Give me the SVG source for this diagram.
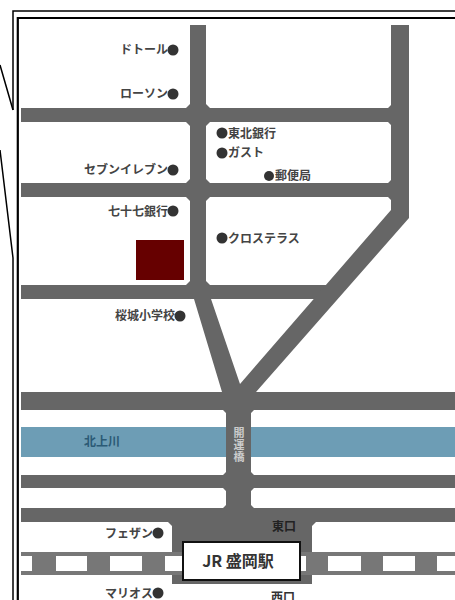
<svg xmlns="http://www.w3.org/2000/svg" width="455" height="600" viewBox="0 0 455 600">
<style>
text{font-family:"Noto Sans CJK JP","Liberation Sans",sans-serif;font-weight:700;fill:#444;font-size:12px}
.e{text-anchor:end}
.m{text-anchor:middle}
.d{fill:#333}
.r{fill:#666}
.w{fill:#fff}
.f{fill:none;stroke:#000}
</style>
<rect width="455" height="600" fill="#fff"/>
<g id="frame">
<path class="f" stroke-width="1.500" d="M13 110V11H455M13 258V600"/>
<path class="f" stroke-width="2.200" d="M17.800 600V18H455"/>
<path class="f" stroke-width="1.500" d="M0 65L13 110M0 150L13 258"/>
</g>
<g id="connectors">
<g id="roads" class="r">
<rect x="190" y="25" width="16" height="274"/>
<rect x="21" y="108" width="372" height="14"/>
<rect x="21" y="183" width="372" height="14"/>
<rect x="21" y="285" width="310" height="14"/>
<path d="M186 108L190 104H206L210 108V122L206 126H190L186 122Z"/>
<path d="M186 183L190 179H206L210 183V197L206 201H190L186 197Z"/>
<path d="M186 285L190 281H206L210 285V299H194L186 297Z"/>
<path d="M388 108L391 105V125L388 122ZM388 183L391 180V200L388 197Z"/>
<path d="M391 25H409V218L256 392H222L194 299H211L240 384L391 210Z"/>
<rect x="21" y="392" width="434" height="18"/>
<rect x="21" y="475" width="434" height="13"/>
<rect x="21" y="508" width="434" height="14"/>
<rect x="226" y="392" width="25" height="130"/>
<path d="M223 410H254L251 413H226ZM223 475L226 472H251L254 475ZM223 488H254L251 491H226ZM223 508L226 505H251L254 508Z"/>
<rect x="172" y="520" width="140" height="64"/>
<path d="M168 522H172V526ZM312 522H316L312 526Z"/>
</g>
<rect id="river-left" x="21" y="427" width="205" height="30" fill="#6d9db5"/>
<rect id="river-right" x="251" y="427" width="204" height="30" fill="#6d9db5"/>
<g id="rail">
<rect x="21" y="552" width="434" height="23" fill="#777"/>
<g class="w">
<rect x="21" y="556" width="11" height="15"/>
<rect x="56" y="556" width="31" height="15"/>
<rect x="110" y="556" width="32" height="15"/>
<rect x="165" y="556" width="20" height="15"/>
<rect x="298" y="556" width="8" height="15"/>
<rect x="328" y="556" width="33" height="15"/>
<rect x="383" y="556" width="32" height="15"/>
<rect x="437" y="556" width="18" height="15"/>
</g>
</g>
</g>
<g id="site"><rect x="136" y="240" width="48" height="40" fill="#660000"/></g>
<g id="station"><rect x="183" y="542" width="117" height="38" fill="#fff" stroke="#111" stroke-width="2"/><text class="m" x="238" y="567" style="font-size:16px;fill:#333">JR 盛岡駅</text></g>
<g id="doutor"><circle class="d" cx="173" cy="50" r="5.500"/><text class="e" x="168" y="54">ドトール</text></g>
<g id="lawson"><circle class="d" cx="173" cy="94" r="5.500"/><text class="e" x="168" y="98">ローソン</text></g>
<g id="seven"><circle class="d" cx="173" cy="170" r="5.500"/><text class="e" x="168" y="174">セブンイレブン</text></g>
<g id="bank77"><circle class="d" cx="173" cy="211" r="5.500"/><text class="e" x="168" y="216">七十七銀行</text></g>
<g id="school"><circle class="d" cx="180" cy="316" r="5.500"/><text class="e" x="175" y="320">桜城小学校</text></g>
<g id="tohoku"><circle class="d" cx="222" cy="133" r="5.500"/><text x="228" y="138">東北銀行</text></g>
<g id="gusto"><circle class="d" cx="222" cy="153" r="5.500"/><text x="228" y="157">ガスト</text></g>
<g id="post"><circle class="d" cx="269" cy="176" r="5"/><text x="275" y="180">郵便局</text></g>
<g id="crossterrace"><circle class="d" cx="222" cy="238" r="5.500"/><text x="228" y="243">クロステラス</text></g>
<g id="fezan"><circle class="d" cx="158" cy="533" r="5.500"/><text class="e" x="153" y="538">フェザン</text></g>
<g id="marios"><circle class="d" cx="158" cy="593" r="5.500"/><text class="e" x="153" y="598">マリオス</text></g>
<text id="east" class="m" x="284" y="531" style="fill:#222">東口</text>
<text id="west" class="m" x="283" y="602" style="fill:#333">西口</text>
<text id="river" class="m" x="102" y="446" style="fill:#2b5a75">北上川</text>
<text id="bridge" x="239" y="427" writing-mode="vertical-rl" letter-spacing="1" style="fill:#ccc;font-size:11px">開運橋</text>
</svg>
